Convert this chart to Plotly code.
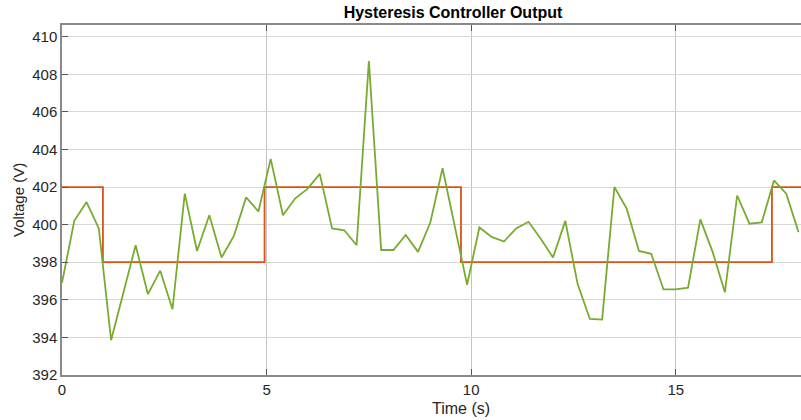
import plotly.graph_objects as go

# Measured signal (green)
time_s = [0.0, 0.3, 0.6, 0.9, 1.2, 1.8, 2.1, 2.4, 2.7, 3.0, 3.3, 3.6, 3.9, 4.2, 4.5, 4.8,
          5.1, 5.4, 5.7, 6.0, 6.3, 6.6, 6.9, 7.2, 7.5, 7.8, 8.1, 8.4, 8.7, 9.0, 9.3,
          9.9, 10.2, 10.5, 10.8, 11.1, 11.4, 11.7, 12.0, 12.3, 12.6, 12.9, 13.2, 13.5,
          13.8, 14.1, 14.4, 14.7, 15.0, 15.3, 15.6, 15.9, 16.2, 16.5, 16.8, 17.1, 17.4,
          17.7, 18.0]
voltage = [396.9, 400.2, 401.2, 399.8, 393.85, 398.9, 396.3, 397.55, 395.5, 401.65,
           398.6, 400.5, 398.25, 399.4, 401.45, 400.7, 403.5, 400.5, 401.4, 401.9,
           402.7, 399.8, 399.7, 398.9, 408.7, 398.65, 398.65, 399.45, 398.55, 400.1,
           403.0, 396.8, 399.85, 399.35, 399.1, 399.8, 400.15, 399.25, 398.25, 400.2,
           396.85, 394.98, 394.95, 402.0, 400.85, 398.6, 398.45, 396.55, 396.55, 396.65,
           400.28, 398.55, 396.4, 401.55, 400.05, 400.12, 402.35, 401.65, 399.6]

# Hysteresis controller output (orange step)
step_time = [0.0, 1.0, 4.95, 9.75, 17.35, 18.1]
step_level = [402, 398, 402, 398, 402, 402]

title_text = "Hysteresis Controller Output"
x_label = "Time (s)"
y_label = "Voltage (V)"
x_ticks = [0, 5, 10, 15]
y_ticks = [392, 394, 396, 398, 400, 402, 404, 406, 408, 410]

FONT = "Liberation Sans, Arial, Helvetica, sans-serif"

fig = go.Figure()
fig.add_trace(go.Scatter(x=step_time, y=step_level, mode="lines", line_shape="hv",
                         line=dict(color="#D95319", width=1.8), showlegend=False))
fig.add_trace(go.Scatter(x=time_s, y=voltage, mode="lines",
                         line=dict(color="#77AC30", width=1.8), showlegend=False))

fig.update_layout(
    width=801, height=420,
    margin=dict(l=62, r=0, t=25, b=45),
    paper_bgcolor="white", plot_bgcolor="white",
    font=dict(family=FONT, size=15, color="#262626"),
    title=dict(text="<b>" + title_text + "</b>", x=453 / 801, xref="container",
               xanchor="center", y=1 - 12 / 420, yanchor="middle",
               font=dict(size=16, color="#000000", family=FONT)),
    annotations=[
        dict(text=x_label, xref="paper", yref="paper", x=(461 - 62) / 739, y=-33 / 350,
             xanchor="center", yanchor="middle", showarrow=False,
             font=dict(size=16, color="#262626")),
        dict(text=y_label, xref="paper", yref="paper", x=-44 / 739, y=0.5,
             xanchor="center", yanchor="middle", showarrow=False, textangle=-90,
             font=dict(size=15, color="#262626")),
    ],
)
fig.update_xaxes(range=[0, 18.06], tickvals=x_ticks, ticks="inside", ticklen=6,
                 tickcolor="#555555", showline=True, linecolor="#8a8a8a", linewidth=1.5,
                 mirror="ticks", showgrid=True, gridcolor="#c4c4c4", gridwidth=1,
                 zeroline=False, tickfont=dict(size=15, color="#262626"))
fig.update_yaxes(range=[392, 410.62], tickvals=y_ticks, ticks="inside", ticklen=6,
                 tickcolor="#555555", showline=True, linecolor="#8a8a8a", linewidth=1.5,
                 mirror=False, showgrid=True, gridcolor="#d6d6d6", gridwidth=1,
                 zeroline=False, tickfont=dict(size=15, color="#262626"))

fig.write_html("out.html", config={"displayModeBar": False},
               post_script="document.body.style.margin='0';document.body.style.overflow='hidden';")
